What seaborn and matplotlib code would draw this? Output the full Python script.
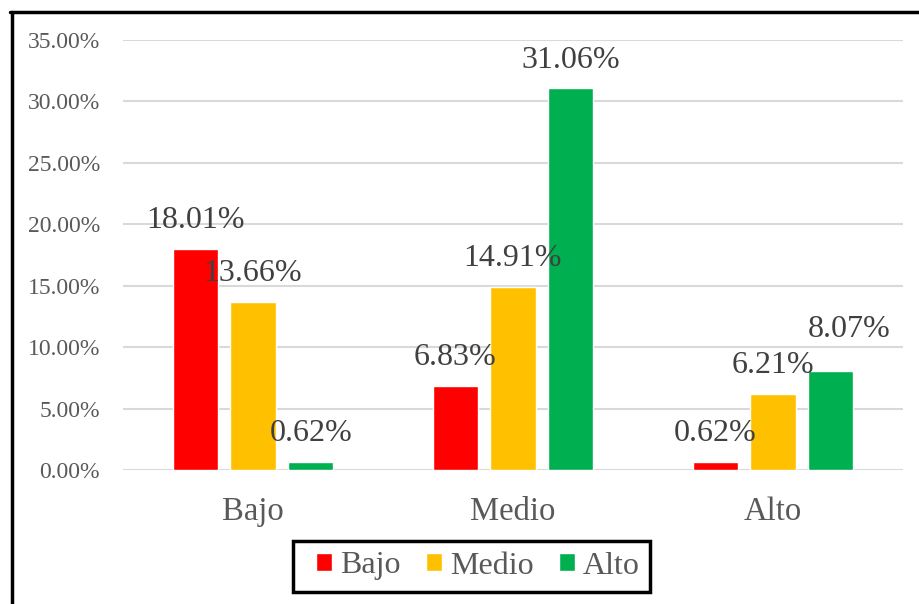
import matplotlib
matplotlib.use("Agg")
import matplotlib.pyplot as plt
from matplotlib.lines import Line2D
from matplotlib.patches import Rectangle
import seaborn as sns
import pandas as pd

categories = ["Bajo", "Medio", "Alto"]
series = ["Bajo", "Medio", "Alto"]
bajo_vals = [0.1801, 0.0683, 0.0062]
medio_vals = [0.1366, 0.1491, 0.0621]
alto_vals = [0.0062, 0.3106, 0.0807]
yticks = [0.0, 0.05, 0.10, 0.15, 0.20, 0.25, 0.30, 0.35]
colors = ["#FF0000", "#FFC000", "#00B050"]

rows = []
for s, vals in zip(series, [bajo_vals, medio_vals, alto_vals]):
    for c, v in zip(categories, vals):
        rows.append({"categoria": c, "serie": s, "valor": v})
df = pd.DataFrame(rows)

sns.set_theme(style="white")
plt.rcParams["font.family"] = ["Liberation Serif", "DejaVu Serif"]

fig = plt.figure(figsize=(9.2, 6.04), dpi=100)
ax = fig.add_axes([123/920, 1-470/604, 780/920, 430/604])

sns.barplot(data=df, x="categoria", y="valor", hue="serie", order=categories,
            hue_order=series, palette=colors, width=0.667, gap=0.22,
            saturation=1, ax=ax, legend=True, err_kws={"linewidth": 0})

ax.set_xlim(-0.5, 2.5)
ax.set_ylim(0, 0.35)
ax.set_yticks(yticks)
ax.set_yticklabels([f"{t*100:.2f}%" for t in yticks], fontsize=17, color="#595959")
ax.tick_params(axis="y", length=0, pad=16.5)
ax.tick_params(axis="x", length=0, pad=19, labelsize=23.5, labelcolor="#595959")
ax.set_xlabel("")
ax.set_ylabel("")
ax.grid(axis="y", color="#D9D9D9", linewidth=1.5)
ax.set_axisbelow(True)
for sp in ax.spines.values():
    sp.set_visible(False)

for i, cont in enumerate(ax.containers):
    labels = [f"{b.get_height()*100:.2f}%" for b in cont]
    anns = ax.bar_label(cont, labels=labels, padding=10, fontsize=23, color="#404040")
    if i == 2:
        # Excel nudged the last label up and right to avoid overlap
        anns[2].xyann = (13, 19)

handles, labs = ax.get_legend_handles_labels()
ax.legend_.remove()
leg = fig.legend(handles, labs, loc="center", bbox_to_anchor=(478/920, 1-566/604),
                 ncol=3, fontsize=23, frameon=False,
                 handlelength=0.5, handleheight=0.5, handletextpad=0.25,
                 columnspacing=0.8, borderpad=0.3, labelcolor="#595959")
fig.add_artist(Rectangle((293/920, 1-592/604), 357/920, 51/604, fill=False,
                         edgecolor="black", linewidth=2.5, transform=fig.transFigure))

fig.add_artist(Line2D([11.5/920, 11.5/920], [0, 1-11.5/604], color="black", linewidth=2.5, transform=fig.transFigure))
fig.add_artist(Line2D([10/920, 1], [1-12/604, 1-12/604], color="black", linewidth=2.5, transform=fig.transFigure))

fig.savefig("out.png", dpi=100)
